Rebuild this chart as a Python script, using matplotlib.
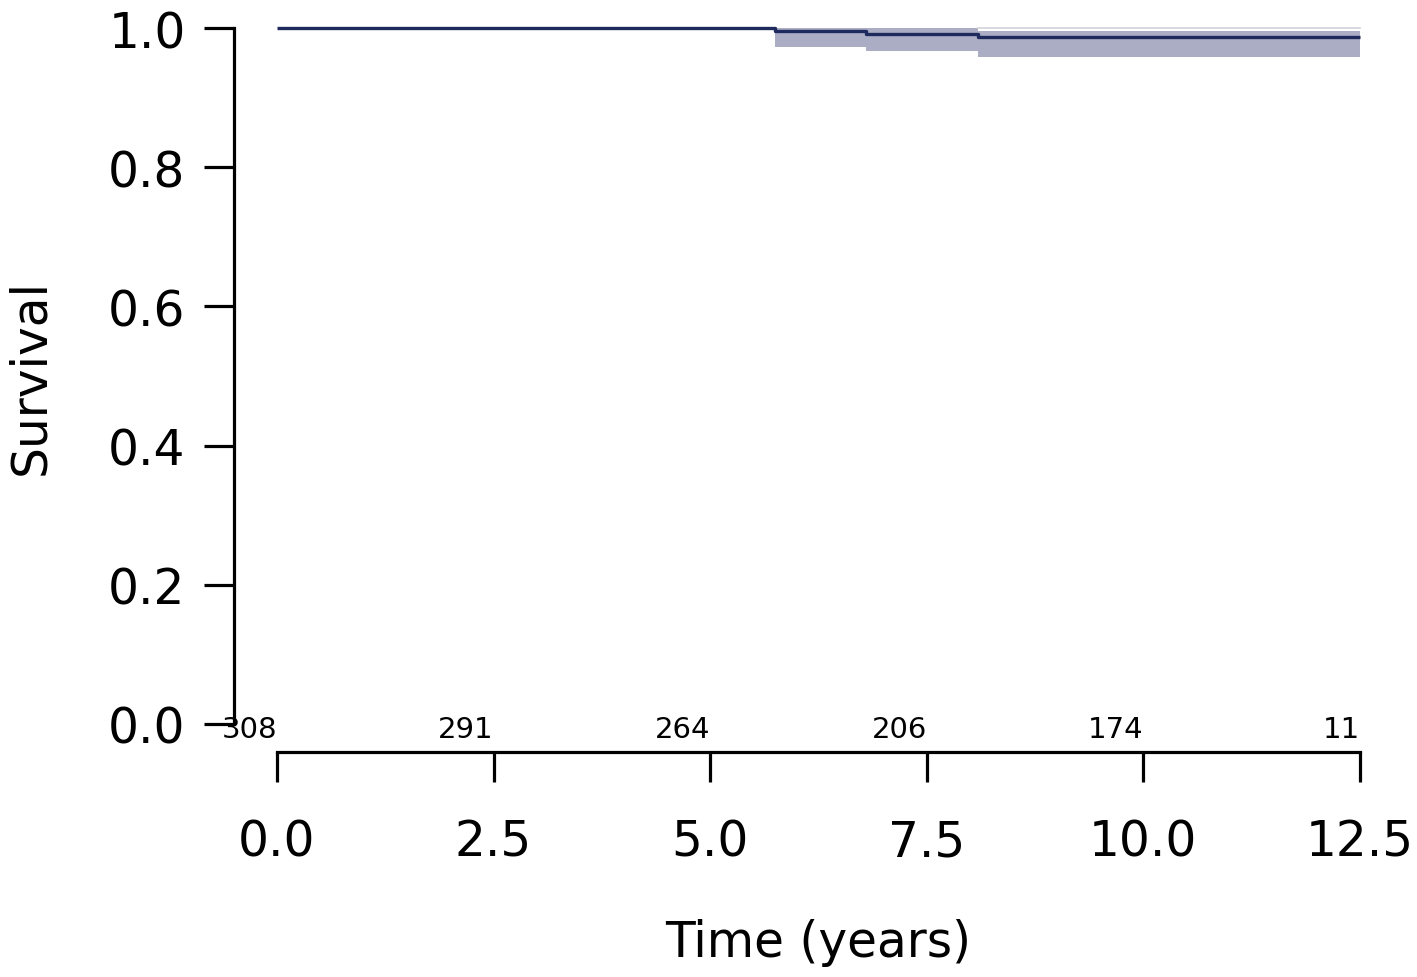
import matplotlib
matplotlib.use('Agg')
import matplotlib.pyplot as plt

# ---- data ----
step_times = [0.0, 5.75, 6.80, 8.09]
end_time = 12.5
survival = [1.0, 0.9961, 0.9914, 0.9866]
ci_lower = [1.0, 0.9723, 0.9665, 0.9588]
ci_upper = [1.0, 1.0, 1.0, 0.9955]

x_ticks = [0.0, 2.5, 5.0, 7.5, 10.0, 12.5]
x_tick_labels = ['0.0', '2.5', '5.0', '7.5', '10.0', '12.5']
y_ticks = [0.0, 0.2, 0.4, 0.6, 0.8, 1.0]
y_tick_labels = ['0.0', '0.2', '0.4', '0.6', '0.8', '1.0']
risk_times = [0.0, 2.5, 5.0, 7.5, 10.0, 12.5]
n_at_risk = [308, 291, 264, 206, 174, 11]

plt.rcParams['font.family'] = ['DejaVu Sans']

LINE_COLOR = '#1E2A5E'
BAND_COLOR = '#AAADC3'

fig = plt.figure(figsize=(14.17, 9.78), dpi=100)
ax = fig.add_axes([0.1649, 0.2303, 0.8254, 0.7685])
ax.set_xlim(-0.5, 13.0)
ax.set_ylim(-0.04, 1.04)

xs = step_times + [end_time]
ys = survival + [survival[-1]]
lo = ci_lower + [ci_lower[-1]]
hi = ci_upper + [ci_upper[-1]]

ax.fill_between(xs, lo, hi, step='post', color=BAND_COLOR, linewidth=0, zorder=1)
# faint upper edge of the last interval
ax.plot([step_times[-1], end_time], [survival[0], survival[0]],
        color='#D2D3DC', linewidth=1.2, zorder=1)
ax.step(xs, ys, where='post', color=LINE_COLOR, linewidth=2.4, zorder=3,
        solid_capstyle='butt')

# numbers at risk
for t, n in zip(risk_times, n_at_risk):
    ax.text(t, -0.0187, str(n), ha='right', va='baseline', fontsize=21,
            color='black', zorder=4)

for s in ['top', 'right']:
    ax.spines[s].set_visible(False)
ax.spines['left'].set_bounds(0.0, 1.0)
ax.spines['bottom'].set_bounds(0.0, 12.5)
for s in ['left', 'bottom']:
    ax.spines[s].set_linewidth(2.3)

ax.set_xticks(x_ticks)
ax.set_xticklabels(x_tick_labels)
ax.set_yticks(y_ticks)
ax.set_yticklabels(y_tick_labels)
ax.tick_params(axis='both', direction='out', length=21.6, width=2.3, labelsize=35)
ax.tick_params(axis='y', pad=13)
ax.tick_params(axis='x', pad=26)

ax.set_xlabel('Time (years)', fontsize=35)
ax.xaxis.label.set_va('center')
ax.xaxis.set_label_coords(0.5, (35 - 225.2) / 751.6)
ax.set_ylabel('Survival', fontsize=35)
ax.yaxis.label.set_va('center')
ax.yaxis.set_label_coords((30 - 233.7) / 1169.6, 0.5)

fig.savefig('out.png', dpi=100)
